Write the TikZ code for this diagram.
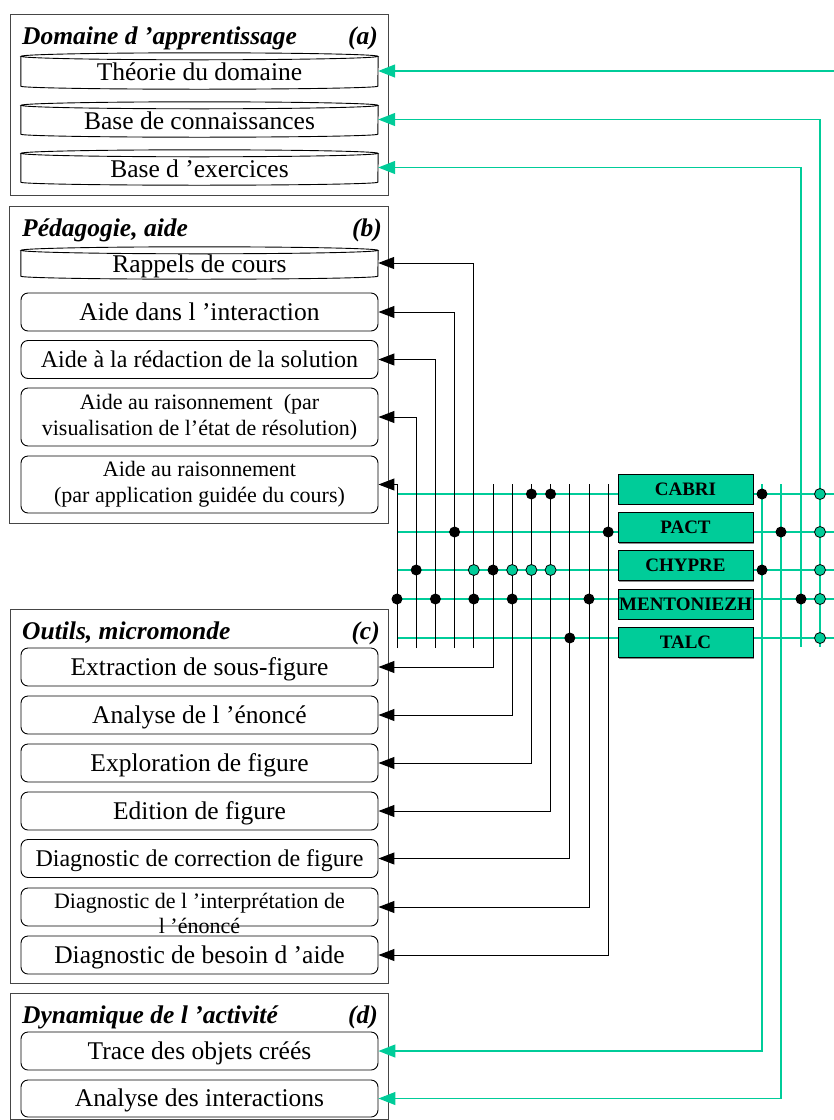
\documentclass[tikz,border=0pt]{standalone}
\usepackage{fontspec}
\setmainfont{Liberation Serif}
\usetikzlibrary{arrows.meta,shadows}
\definecolor{vert}{RGB}{0,204,153}
\definecolor{cadre}{RGB}{70,70,70}
\newcommand\cylindre[1]{%
  \draw[cyltrait] ([yshift=-3.5pt]#1.north west) -- ([yshift=3pt]#1.south west)
    arc[start angle=180,end angle=360,x radius=178.5pt,y radius=3pt]
    -- ([yshift=-3.5pt]#1.north east);
  \draw[cyltrait] ([yshift=-3.5pt]#1.north) ellipse[x radius=178.5pt,y radius=3.5pt];}
\newcommand\deuxlignes[3]{\raisebox{#1}{\begin{tabular}{@{}c@{}}#2\\#3\end{tabular}}}
\begin{document}
\begin{tikzpicture}[x=1pt,y=-1pt,
  cadreext/.style={draw=cadre,line width=1pt,minimum width=378pt,inner sep=0pt},
  boite/.style={draw,rounded corners=7pt,line width=0.9pt,minimum width=357pt,minimum height=38pt,inner sep=0pt,align=center,font=\fontsize{22}{26}\selectfont},
  ligne/.style={boite,text height=18pt,text depth=2pt,font=\fontsize{25.5}{30}\selectfont},
  cyl/.style={minimum width=357pt,inner sep=0pt,text height=19pt,text depth=0pt,font=\fontsize{25.5}{30}\selectfont},
  cyltrait/.style={line width=0.9pt},
  titre/.style={inner sep=0pt,font=\fontsize{25.5}{30}\selectfont\bfseries\itshape},
  outil/.style={draw,fill=vert,line width=1pt,minimum width=135pt,minimum height=30pt,inner sep=0pt,text height=13pt,text depth=1pt,font=\fontsize{19}{22}\selectfont\bfseries,drop shadow={shadow xshift=1.2pt,shadow yshift=-1.2pt,fill=black!45,opacity=1}},
  bus/.style={line width=1pt},
  barr/.style={bus,-{Triangle[length=16pt,width=12pt]}},
  gligne/.style={vert,line width=1.3pt},
  garr/.style={gligne,-{Triangle[length=17pt,width=13pt]}},
  bdot/.style={circle,fill=black,inner sep=0pt,minimum size=11pt},
  gdot/.style={circle,fill=vert,draw=black,line width=0.8pt,inner sep=0pt,minimum size=11pt},
]
\useasboundingbox (0,0) rectangle (834,1120);

% ---------- frames ----------
\node[cadreext,minimum height=181pt] (fa) at (199,104.5) {};
\node[cadreext,minimum width=379pt,minimum height=317pt] (fb) at (198.5,364.5) {};
\node[cadreext,minimum height=374pt] (fc) at (199,796) {};
\node[cadreext,minimum height=126pt] (fd) at (199,1056) {};

% ---------- titles ----------
\node[titre,anchor=base west] (ta) at (22,44) {Domaine d ’apprentissage};
\node[titre,anchor=base east] (la) at (378,44) {(a)};
\node[titre,anchor=base west] (tb) at (22,236) {Pédagogie, aide};
\node[titre,anchor=base east] (lb) at (382,236) {(b)};
\node[titre,anchor=base west] (tc) at (22,639) {Outils, micromonde};
\node[titre,anchor=base east] (lc) at (380,639) {(c)};
\node[titre,anchor=base west] (td) at (22,1023) {Dynamique de l ’activité};
\node[titre,anchor=base east] (ld) at (378,1023) {(d)};

% ---------- (a) ----------
\node[cyl,minimum height=36pt] (theo) at (199.5,71) {Théorie du domaine};
\node[cyl,minimum height=35pt] (bcon) at (199.5,119.5) {Base de connaissances};
\node[cyl,minimum height=35pt] (bex) at (199.5,167.5) {Base d ’exercices};
\cylindre{theo}\cylindre{bcon}\cylindre{bex}

% ---------- (b) ----------
\node[cyl,minimum height=32pt] (rap) at (199.5,263) {Rappels de cours};
\cylindre{rap}
\node[ligne] (inter) at (199.5,312) {Aide dans l ’interaction};
\node[ligne,font=\fontsize{24}{28}\selectfont] (redac) at (199.5,359.5) {Aide à la rédaction de la solution};
\node[boite,minimum height=58pt] (visu) at (199.5,417) {\deuxlignes{-3pt}{Aide au raisonnement~ (par}{visualisation de l’état de résolution)}};
\node[boite,minimum height=57pt] (app) at (199.5,484.5) {\deuxlignes{-2.5pt}{Aide au raisonnement}{(par application guidée du cours)}};

% ---------- (c) ----------
\node[ligne] (extr) at (199.5,667) {Extraction de sous-figure};
\node[ligne] (anal) at (199.5,715) {Analyse de l ’énoncé};
\node[ligne] (explo) at (199.5,763) {Exploration de figure};
\node[ligne] (edit) at (199.5,811) {Edition de figure};
\node[ligne,font=\fontsize{24}{28}\selectfont] (dcor) at (199.5,858.5) {Diagnostic de correction de figure};
\node[boite] (dint) at (199.5,907) {};
\node[inner sep=0pt,align=center,font=\fontsize{22}{25}\selectfont] (dintT) at (199.5,913) {Diagnostic de l ’interprétation de\\l ’énoncé};
\node[ligne] (dbes) at (199.5,955) {Diagnostic de besoin d ’aide};

% ---------- (d) ----------
\node[ligne] (trace) at (199.5,1051) {Trace des objets créés};
\node[ligne,minimum height=37pt] (anint) at (199.5,1098.5) {Analyse des interactions};

% ---------- tools ----------
\coordinate (r1) at (397,494); \coordinate (e1) at (834,494);
\coordinate (r2) at (397,532); \coordinate (e2) at (834,532);
\coordinate (r3) at (397,570); \coordinate (e3) at (834,570);
\coordinate (r4) at (397,599); \coordinate (e4) at (834,599);
\coordinate (r5) at (397,638); \coordinate (e5) at (834,638);
\draw[gligne] (r1) -- (e1);
\draw[gligne] (r2) -- (e2);
\draw[gligne] (r3) -- (e3);
\draw[gligne] (r4) -- (e4);
\draw[gligne] (r5) -- (e5);

\node[outil] (cabri) at (685.5,489) {CABRI};
\node[outil] (pact) at (685.5,527.5) {PACT};
\node[outil] (chypre) at (685.5,565.5) {CHYPRE};
\node[outil] (ment) at (685.5,604) {MENTONIEZH};
\node[outil] (talc) at (685.5,642.5) {TALC};

% ---------- black buses ----------
\coordinate (bb0) at (397,648);
\coordinate (bb1) at (416.2,648);
\coordinate (bb2) at (435.4,648);
\coordinate (bb3) at (454.6,648);
\coordinate (bb4) at (473.8,648);
\coordinate (bt5) at (493,484);
\coordinate (bt6) at (512.2,484);
\coordinate (bt7) at (531.4,484);
\coordinate (bt8) at (550.6,484);
\coordinate (bt9) at (569.8,484);
\coordinate (bt10) at (589,484);
\coordinate (bt11) at (608.2,484);
\draw[barr] (bb0) |- (app.east);
\draw[barr] (bb1) |- (visu.east);
\draw[barr] (bb2) |- (redac.east);
\draw[barr] (bb3) |- (inter.east);
\draw[barr] (bb4) |- (rap.east);
\draw[barr] (bt5) |- (extr.east);
\draw[barr] (bt6) |- (anal.east);
\draw[barr] (bt7) |- (explo.east);
\draw[barr] (bt8) |- (edit.east);
\draw[barr] (bt9) |- (dcor.east);
\draw[barr] (bt10) |- (dint.east);
\draw[barr] (bt11) |- (dbes.east);

% ---------- green buses ----------
\coordinate (gtop) at (834,71);
\coordinate (g1) at (762,484);
\coordinate (g2) at (781,484);
\coordinate (g3) at (801,647);
\coordinate (g4) at (820,647);
\draw[garr] (gtop) -- (theo.east);
\draw[garr] (g4) |- (bcon.east);
\draw[garr] (g3) |- (bex.east);
\draw[garr] (g1) |- (trace.east);
\draw[garr] (g2) |- (anint.east);

% ---------- dots ----------
\node[bdot] (p1a) at (bt7 |- r1) {};
\node[bdot] (p1b) at (bt8 |- r1) {};
\node[bdot] (p1c) at (g1 |- r1) {};
\node[gdot] (p1d) at (g4 |- r1) {};

\node[bdot] (p2a) at (bb3 |- r2) {};
\node[bdot] (p2b) at (bt11 |- r2) {};
\node[bdot] (p2c) at (g2 |- r2) {};
\node[gdot] (p2d) at (g4 |- r2) {};

\node[bdot] (p3a) at (bb1 |- r3) {};
\node[gdot] (p3b) at (bb4 |- r3) {};
\node[bdot] (p3c) at (bt5 |- r3) {};
\node[gdot] (p3d) at (bt6 |- r3) {};
\node[gdot] (p3e) at (bt7 |- r3) {};
\node[gdot] (p3f) at (bt8 |- r3) {};
\node[bdot] (p3g) at (g1 |- r3) {};
\node[gdot] (p3h) at (g4 |- r3) {};

\node[bdot] (p4a) at (bb0 |- r4) {};
\node[bdot] (p4b) at (bb2 |- r4) {};
\node[bdot] (p4c) at (bb4 |- r4) {};
\node[bdot] (p4d) at (bt6 |- r4) {};
\node[bdot] (p4e) at (bt10 |- r4) {};
\node[bdot] (p4f) at (g3 |- r4) {};
\node[gdot] (p4g) at (g4 |- r4) {};

\node[bdot] (p5a) at (bt9 |- r5) {};
\node[gdot] (p5b) at (g4 |- r5) {};
\end{tikzpicture}
\end{document}
